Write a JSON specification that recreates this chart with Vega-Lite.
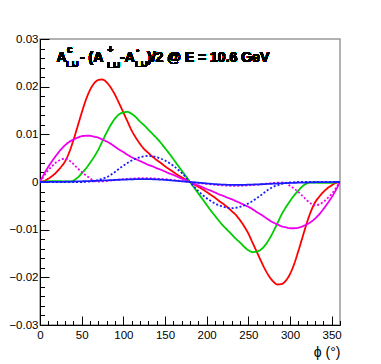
{
  "$schema": "https://vega.github.io/schema/vega-lite/v6.json",
  "width": 300,
  "height": 286,
  "autosize": "none",
  "padding": {"left": 40, "top": 39, "right": 41, "bottom": 39},
  "background": "white",
  "config": {
    "view": {"stroke": "#999999", "strokeWidth": 1.5},
    "axis": {"grid": false, "labelFont": "Liberation Sans", "labelFontSize": 11.5, "labelColor": "black", "domainColor": "black", "tickColor": "black", "titleFont": "Liberation Sans"},
    "text": {"font": "Liberation Sans", "fontWeight": "bold", "align": "left", "baseline": "alphabetic", "color": "black"}
  },
  "data": {"values": [
    {"s":"r","p":0,"v":0},{"s":"r","p":5,"v":0.0002},{"s":"r","p":10,"v":0.0007},{"s":"r","p":15,"v":0.0013},{"s":"r","p":20,"v":0.0021},{"s":"r","p":25,"v":0.0031},{"s":"r","p":30,"v":0.0043},{"s":"r","p":35,"v":0.0062},{"s":"r","p":40,"v":0.0087},{"s":"r","p":45,"v":0.0116},{"s":"r","p":50,"v":0.0145},{"s":"r","p":55,"v":0.0172},{"s":"r","p":60,"v":0.0193},{"s":"r","p":65,"v":0.0207},{"s":"r","p":70,"v":0.0214},{"s":"r","p":75,"v":0.0215},{"s":"r","p":80,"v":0.0209},{"s":"r","p":85,"v":0.0198},{"s":"r","p":90,"v":0.0183},{"s":"r","p":95,"v":0.0165},{"s":"r","p":100,"v":0.0146},{"s":"r","p":105,"v":0.0127},{"s":"r","p":110,"v":0.0108},{"s":"r","p":115,"v":0.0093},{"s":"r","p":120,"v":0.008},{"s":"r","p":125,"v":0.0069},{"s":"r","p":130,"v":0.0061},{"s":"r","p":135,"v":0.0053},{"s":"r","p":140,"v":0.0046},{"s":"r","p":145,"v":0.004},{"s":"r","p":150,"v":0.0033},{"s":"r","p":155,"v":0.0027},{"s":"r","p":160,"v":0.0021},{"s":"r","p":165,"v":0.0015},{"s":"r","p":170,"v":0.001},{"s":"r","p":175,"v":0.0005},{"s":"r","p":180,"v":0},
    {"s":"r","p":185,"v":-0.0005},{"s":"r","p":190,"v":-0.001},{"s":"r","p":195,"v":-0.0015},{"s":"r","p":200,"v":-0.0021},{"s":"r","p":205,"v":-0.0027},{"s":"r","p":210,"v":-0.0033},{"s":"r","p":215,"v":-0.004},{"s":"r","p":220,"v":-0.0046},{"s":"r","p":225,"v":-0.0053},{"s":"r","p":230,"v":-0.0061},{"s":"r","p":235,"v":-0.0069},{"s":"r","p":240,"v":-0.008},{"s":"r","p":245,"v":-0.0093},{"s":"r","p":250,"v":-0.0108},{"s":"r","p":255,"v":-0.0127},{"s":"r","p":260,"v":-0.0146},{"s":"r","p":265,"v":-0.0165},{"s":"r","p":270,"v":-0.0183},{"s":"r","p":275,"v":-0.0198},{"s":"r","p":280,"v":-0.0209},{"s":"r","p":285,"v":-0.0215},{"s":"r","p":290,"v":-0.0214},{"s":"r","p":295,"v":-0.0207},{"s":"r","p":300,"v":-0.0193},{"s":"r","p":305,"v":-0.0172},{"s":"r","p":310,"v":-0.0145},{"s":"r","p":315,"v":-0.0116},{"s":"r","p":320,"v":-0.0087},{"s":"r","p":325,"v":-0.0062},{"s":"r","p":330,"v":-0.0043},{"s":"r","p":335,"v":-0.0031},{"s":"r","p":340,"v":-0.0021},{"s":"r","p":345,"v":-0.0013},{"s":"r","p":350,"v":-0.0007},{"s":"r","p":355,"v":-0.0002},{"s":"r","p":360,"v":0},
    {"s":"g","p":0,"v":0},{"s":"g","p":5,"v":0.0001},{"s":"g","p":10,"v":0.0002},{"s":"g","p":15,"v":0.0002},{"s":"g","p":20,"v":0.0002},{"s":"g","p":25,"v":0.0002},{"s":"g","p":30,"v":0.0001},{"s":"g","p":35,"v":0.0001},{"s":"g","p":40,"v":0.0003},{"s":"g","p":45,"v":0.0009},{"s":"g","p":50,"v":0.0018},{"s":"g","p":55,"v":0.0028},{"s":"g","p":60,"v":0.004},{"s":"g","p":65,"v":0.0053},{"s":"g","p":70,"v":0.0068},{"s":"g","p":75,"v":0.0086},{"s":"g","p":80,"v":0.0104},{"s":"g","p":85,"v":0.012},{"s":"g","p":90,"v":0.0133},{"s":"g","p":95,"v":0.0142},{"s":"g","p":100,"v":0.0146},{"s":"g","p":105,"v":0.0147},{"s":"g","p":110,"v":0.0143},{"s":"g","p":115,"v":0.0136},{"s":"g","p":120,"v":0.0127},{"s":"g","p":125,"v":0.0119},{"s":"g","p":130,"v":0.011},{"s":"g","p":135,"v":0.0101},{"s":"g","p":140,"v":0.0092},{"s":"g","p":145,"v":0.0082},{"s":"g","p":150,"v":0.0071},{"s":"g","p":155,"v":0.006},{"s":"g","p":160,"v":0.0048},{"s":"g","p":165,"v":0.0036},{"s":"g","p":170,"v":0.0024},{"s":"g","p":175,"v":0.0012},{"s":"g","p":180,"v":0},
    {"s":"g","p":185,"v":-0.0012},{"s":"g","p":190,"v":-0.0024},{"s":"g","p":195,"v":-0.0036},{"s":"g","p":200,"v":-0.0048},{"s":"g","p":205,"v":-0.006},{"s":"g","p":210,"v":-0.0071},{"s":"g","p":215,"v":-0.0082},{"s":"g","p":220,"v":-0.0092},{"s":"g","p":225,"v":-0.0101},{"s":"g","p":230,"v":-0.011},{"s":"g","p":235,"v":-0.0119},{"s":"g","p":240,"v":-0.0127},{"s":"g","p":245,"v":-0.0136},{"s":"g","p":250,"v":-0.0143},{"s":"g","p":255,"v":-0.0147},{"s":"g","p":260,"v":-0.0146},{"s":"g","p":265,"v":-0.0142},{"s":"g","p":270,"v":-0.0133},{"s":"g","p":275,"v":-0.012},{"s":"g","p":280,"v":-0.0104},{"s":"g","p":285,"v":-0.0086},{"s":"g","p":290,"v":-0.0068},{"s":"g","p":295,"v":-0.0053},{"s":"g","p":300,"v":-0.004},{"s":"g","p":305,"v":-0.0028},{"s":"g","p":310,"v":-0.0018},{"s":"g","p":315,"v":-0.0009},{"s":"g","p":320,"v":-0.0003},{"s":"g","p":325,"v":-0.0001},{"s":"g","p":330,"v":-0.0001},{"s":"g","p":335,"v":-0.0002},{"s":"g","p":340,"v":-0.0002},{"s":"g","p":345,"v":-0.0002},{"s":"g","p":350,"v":-0.0002},{"s":"g","p":355,"v":-0.0001},{"s":"g","p":360,"v":0},
    {"s":"m","p":0,"v":0},{"s":"m","p":5,"v":0.0017},{"s":"m","p":10,"v":0.0032},{"s":"m","p":15,"v":0.0045},{"s":"m","p":20,"v":0.0057},{"s":"m","p":25,"v":0.0068},{"s":"m","p":30,"v":0.0077},{"s":"m","p":35,"v":0.0084},{"s":"m","p":40,"v":0.0089},{"s":"m","p":45,"v":0.0093},{"s":"m","p":50,"v":0.0096},{"s":"m","p":55,"v":0.0097},{"s":"m","p":60,"v":0.0097},{"s":"m","p":65,"v":0.0095},{"s":"m","p":70,"v":0.0093},{"s":"m","p":75,"v":0.0089},{"s":"m","p":80,"v":0.0085},{"s":"m","p":85,"v":0.008},{"s":"m","p":90,"v":0.0074},{"s":"m","p":95,"v":0.0068},{"s":"m","p":100,"v":0.0063},{"s":"m","p":105,"v":0.0057},{"s":"m","p":110,"v":0.0052},{"s":"m","p":115,"v":0.0048},{"s":"m","p":120,"v":0.0044},{"s":"m","p":125,"v":0.004},{"s":"m","p":130,"v":0.0036},{"s":"m","p":135,"v":0.0033},{"s":"m","p":140,"v":0.0029},{"s":"m","p":145,"v":0.0026},{"s":"m","p":150,"v":0.0022},{"s":"m","p":155,"v":0.0018},{"s":"m","p":160,"v":0.0015},{"s":"m","p":165,"v":0.0011},{"s":"m","p":170,"v":0.0007},{"s":"m","p":175,"v":0.0004},{"s":"m","p":180,"v":0},
    {"s":"m","p":185,"v":-0.0004},{"s":"m","p":190,"v":-0.0007},{"s":"m","p":195,"v":-0.0011},{"s":"m","p":200,"v":-0.0015},{"s":"m","p":205,"v":-0.0018},{"s":"m","p":210,"v":-0.0022},{"s":"m","p":215,"v":-0.0026},{"s":"m","p":220,"v":-0.0029},{"s":"m","p":225,"v":-0.0033},{"s":"m","p":230,"v":-0.0036},{"s":"m","p":235,"v":-0.004},{"s":"m","p":240,"v":-0.0044},{"s":"m","p":245,"v":-0.0048},{"s":"m","p":250,"v":-0.0052},{"s":"m","p":255,"v":-0.0057},{"s":"m","p":260,"v":-0.0063},{"s":"m","p":265,"v":-0.0068},{"s":"m","p":270,"v":-0.0074},{"s":"m","p":275,"v":-0.008},{"s":"m","p":280,"v":-0.0085},{"s":"m","p":285,"v":-0.0089},{"s":"m","p":290,"v":-0.0093},{"s":"m","p":295,"v":-0.0095},{"s":"m","p":300,"v":-0.0097},{"s":"m","p":305,"v":-0.0097},{"s":"m","p":310,"v":-0.0096},{"s":"m","p":315,"v":-0.0093},{"s":"m","p":320,"v":-0.0089},{"s":"m","p":325,"v":-0.0084},{"s":"m","p":330,"v":-0.0077},{"s":"m","p":335,"v":-0.0068},{"s":"m","p":340,"v":-0.0057},{"s":"m","p":345,"v":-0.0045},{"s":"m","p":350,"v":-0.0032},{"s":"m","p":355,"v":-0.0017},{"s":"m","p":360,"v":0},
    {"s":"md","p":0,"v":0},{"s":"md","p":5,"v":0.0013},{"s":"md","p":10,"v":0.0025},{"s":"md","p":15,"v":0.0034},{"s":"md","p":20,"v":0.0042},{"s":"md","p":25,"v":0.0047},{"s":"md","p":30,"v":0.0049},{"s":"md","p":35,"v":0.0045},{"s":"md","p":40,"v":0.0038},{"s":"md","p":45,"v":0.0029},{"s":"md","p":50,"v":0.0021},{"s":"md","p":55,"v":0.0014},{"s":"md","p":60,"v":0.0008},{"s":"md","p":65,"v":0.0002},{"s":"md","p":70,"v":0.0001},{"s":"md","p":80,"v":0.0002},{"s":"md","p":90,"v":0.0004},{"s":"md","p":100,"v":0.0006},{"s":"md","p":110,"v":0.0007},{"s":"md","p":120,"v":0.0008},{"s":"md","p":130,"v":0.0008},{"s":"md","p":140,"v":0.0007},{"s":"md","p":150,"v":0.0006},{"s":"md","p":160,"v":0.0004},{"s":"md","p":170,"v":0.0002},{"s":"md","p":180,"v":0},
    {"s":"md","p":190,"v":-0.0002},{"s":"md","p":200,"v":-0.0004},{"s":"md","p":210,"v":-0.0006},{"s":"md","p":220,"v":-0.0007},{"s":"md","p":230,"v":-0.0008},{"s":"md","p":240,"v":-0.0008},{"s":"md","p":250,"v":-0.0007},{"s":"md","p":260,"v":-0.0006},{"s":"md","p":270,"v":-0.0004},{"s":"md","p":280,"v":-0.0002},{"s":"md","p":290,"v":-0.0001},{"s":"md","p":295,"v":-0.0002},{"s":"md","p":300,"v":-0.0008},{"s":"md","p":305,"v":-0.0014},{"s":"md","p":310,"v":-0.0021},{"s":"md","p":315,"v":-0.0029},{"s":"md","p":320,"v":-0.0038},{"s":"md","p":325,"v":-0.0045},{"s":"md","p":330,"v":-0.0049},{"s":"md","p":335,"v":-0.0047},{"s":"md","p":340,"v":-0.0042},{"s":"md","p":345,"v":-0.0034},{"s":"md","p":350,"v":-0.0025},{"s":"md","p":355,"v":-0.0013},{"s":"md","p":360,"v":0},
    {"s":"bd","p":0,"v":0},{"s":"bd","p":10,"v":0},{"s":"bd","p":20,"v":0},{"s":"bd","p":30,"v":0},{"s":"bd","p":40,"v":0},{"s":"bd","p":50,"v":0},{"s":"bd","p":55,"v":0.00005},{"s":"bd","p":60,"v":0.0001},{"s":"bd","p":65,"v":0.0002},{"s":"bd","p":70,"v":0.0004},{"s":"bd","p":75,"v":0.0007},{"s":"bd","p":80,"v":0.001},{"s":"bd","p":85,"v":0.0015},{"s":"bd","p":90,"v":0.0021},{"s":"bd","p":95,"v":0.0028},{"s":"bd","p":100,"v":0.0034},{"s":"bd","p":105,"v":0.004},{"s":"bd","p":110,"v":0.0045},{"s":"bd","p":115,"v":0.0049},{"s":"bd","p":120,"v":0.0052},{"s":"bd","p":125,"v":0.0054},{"s":"bd","p":130,"v":0.0055},{"s":"bd","p":135,"v":0.0054},{"s":"bd","p":140,"v":0.0052},{"s":"bd","p":145,"v":0.0049},{"s":"bd","p":150,"v":0.0045},{"s":"bd","p":155,"v":0.004},{"s":"bd","p":160,"v":0.0034},{"s":"bd","p":165,"v":0.0027},{"s":"bd","p":170,"v":0.0019},{"s":"bd","p":175,"v":0.001},{"s":"bd","p":180,"v":0},
    {"s":"bd","p":185,"v":-0.001},{"s":"bd","p":190,"v":-0.0019},{"s":"bd","p":195,"v":-0.0027},{"s":"bd","p":200,"v":-0.0034},{"s":"bd","p":205,"v":-0.004},{"s":"bd","p":210,"v":-0.0045},{"s":"bd","p":215,"v":-0.0049},{"s":"bd","p":220,"v":-0.0052},{"s":"bd","p":225,"v":-0.0054},{"s":"bd","p":230,"v":-0.0055},{"s":"bd","p":235,"v":-0.0054},{"s":"bd","p":240,"v":-0.0052},{"s":"bd","p":245,"v":-0.0049},{"s":"bd","p":250,"v":-0.0045},{"s":"bd","p":255,"v":-0.004},{"s":"bd","p":260,"v":-0.0034},{"s":"bd","p":265,"v":-0.0028},{"s":"bd","p":270,"v":-0.0021},{"s":"bd","p":275,"v":-0.0015},{"s":"bd","p":280,"v":-0.001},{"s":"bd","p":285,"v":-0.0007},{"s":"bd","p":290,"v":-0.0004},{"s":"bd","p":295,"v":-0.0002},{"s":"bd","p":300,"v":-0.0001},{"s":"bd","p":305,"v":-0.00005},{"s":"bd","p":310,"v":0},{"s":"bd","p":320,"v":0},{"s":"bd","p":330,"v":0},{"s":"bd","p":340,"v":0},{"s":"bd","p":350,"v":0},{"s":"bd","p":360,"v":0},
    {"s":"b","p":0,"v":0},{"s":"b","p":20,"v":0.00002},{"s":"b","p":40,"v":0.0001},{"s":"b","p":60,"v":0.0002},{"s":"b","p":80,"v":0.00035},{"s":"b","p":100,"v":0.0005},{"s":"b","p":120,"v":0.0006},{"s":"b","p":130,"v":0.0006},{"s":"b","p":140,"v":0.00055},{"s":"b","p":150,"v":0.00045},{"s":"b","p":160,"v":0.0003},{"s":"b","p":170,"v":0.00015},{"s":"b","p":180,"v":0},
    {"s":"b","p":190,"v":-0.00015},{"s":"b","p":200,"v":-0.0003},{"s":"b","p":210,"v":-0.00045},{"s":"b","p":220,"v":-0.00055},{"s":"b","p":230,"v":-0.0006},{"s":"b","p":240,"v":-0.0006},{"s":"b","p":260,"v":-0.0005},{"s":"b","p":280,"v":-0.00035},{"s":"b","p":300,"v":-0.0002},{"s":"b","p":320,"v":-0.0001},{"s":"b","p":340,"v":-0.00002},{"s":"b","p":360,"v":0}
  ]},
  "resolve": {"axis": {"x": "independent", "y": "independent"}},
  "layer": [
    {
      "mark": {"type": "line", "interpolate": "monotone", "strokeWidth": 1.8, "clip": true},
      "encoding": {
        "x": {"field": "p", "type": "quantitative", "scale": {"domain": [0, 360], "nice": false},
              "axis": {"orient": "bottom", "values": [0,50,100,150,200,250,300,350], "tickSize": -9, "labelPadding": 13, "labelFlush": false,
                       "title": "ϕ  (°)", "titleFontWeight": "normal", "titleFontSize": 14, "titleAnchor": "end", "titleAlign": "right", "titleX": 300, "titleY": 31, "titleBaseline": "alphabetic"}},
        "y": {"field": "v", "type": "quantitative", "scale": {"domain": [-0.03, 0.03], "nice": false, "zero": false},
              "axis": {"orient": "left", "values": [-0.03,-0.02,-0.01,0,0.01,0.02,0.03], "format": ".2~f", "tickSize": -9, "labelPadding": 11, "labelFlush": false, "title": null}},
        "color": {"field": "s", "type": "nominal", "legend": null,
                  "scale": {"domain": ["r","g","m","md","bd","b"], "range": ["#ff0000","#00cc00","#ee00ee","#ee00ee","#1a1aff","#1a1aff"]}},
        "strokeDash": {"field": "s", "type": "nominal", "legend": null,
                  "scale": {"domain": ["r","g","m","md","bd","b"], "range": [[1,0],[1,0],[1,0],[2,2],[2,2],[1,0]]}}
      }
    },
    {
      "mark": {"type": "point", "opacity": 0},
      "encoding": {
        "x": {"field": "p", "type": "quantitative",
              "axis": {"orient": "bottom", "values": [0,10,20,30,40,50,60,70,80,90,100,110,120,130,140,150,160,170,180,190,200,210,220,230,240,250,260,270,280,290,300,310,320,330,340,350,360], "tickSize": -4.5, "labels": false, "domain": false, "title": null}},
        "y": {"field": "v", "type": "quantitative",
              "axis": {"orient": "left", "values": [-0.03,-0.028,-0.026,-0.024,-0.022,-0.02,-0.018,-0.016,-0.014,-0.012,-0.01,-0.008,-0.006,-0.004,-0.002,0,0.002,0.004,0.006,0.008,0.01,0.012,0.014,0.016,0.018,0.02,0.022,0.024,0.026,0.028,0.03], "tickSize": -4.5, "labels": false, "domain": false, "title": null}}
      }
    },
    {"mark": {"type": "text", "fontSize": 14},
     "encoding": {"x": {"datum": 19.8, "axis": null}, "y": {"datum": 0.02511, "axis": null}, "text": {"value": "A"}}},
    {"mark": {"type": "text", "fontSize": 10},
     "encoding": {"x": {"datum": 32.4, "axis": null}, "y": {"datum": 0.02696, "axis": null}, "text": {"value": "c"}}},
    {"mark": {"type": "text", "fontSize": 9.5},
     "encoding": {"x": {"datum": 31.2, "axis": null}, "y": {"datum": 0.02423, "axis": null}, "text": {"value": "LU"}}},
    {"mark": {"type": "text", "fontSize": 14},
     "encoding": {"x": {"datum": 48, "axis": null}, "y": {"datum": 0.02511, "axis": null}, "text": {"value": "- (A"}}},
    {"mark": {"type": "text", "fontSize": 10},
     "encoding": {"x": {"datum": 81, "axis": null}, "y": {"datum": 0.02696, "axis": null}, "text": {"value": "+"}}},
    {"mark": {"type": "text", "fontSize": 9.5},
     "encoding": {"x": {"datum": 80.8, "axis": null}, "y": {"datum": 0.02392, "axis": null}, "text": {"value": "LU"}}},
    {"mark": {"type": "text", "fontSize": 14},
     "encoding": {"x": {"datum": 96, "axis": null}, "y": {"datum": 0.02511, "axis": null}, "text": {"value": "-A"}}},
    {"mark": {"type": "text", "fontSize": 10},
     "encoding": {"x": {"datum": 115.2, "axis": null}, "y": {"datum": 0.02696, "axis": null}, "text": {"value": "-"}}},
    {"mark": {"type": "text", "fontSize": 9.5},
     "encoding": {"x": {"datum": 114, "axis": null}, "y": {"datum": 0.02423, "axis": null}, "text": {"value": "LU"}}},
    {"mark": {"type": "text", "fontSize": 14},
     "encoding": {"x": {"datum": 128.4, "axis": null}, "y": {"datum": 0.02511, "axis": null}, "text": {"value": ")/2 @ E = 10.6 GeV"}}}
  ]
}
